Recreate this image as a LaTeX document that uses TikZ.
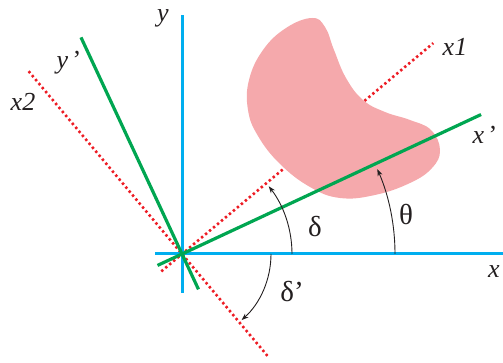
\documentclass[tikz,border=0pt]{standalone}
\usepackage{fontspec}
\setmainfont{Liberation Serif}
\usetikzlibrary{arrows.meta,calc}
\definecolor{axblue}{HTML}{00AEEF}
\definecolor{axgreen}{HTML}{00A651}
\definecolor{axred}{HTML}{ED1C24}
\definecolor{blobpink}{HTML}{F5A9AC}
\definecolor{txt}{HTML}{231F20}
\tikzset{
  blueaxis/.style={draw=axblue, line width=3pt},
  greenaxis/.style={draw=axgreen, line width=3.2pt},
  redaxis/.style={draw=axred, line width=2.6pt, dash pattern=on 2.4pt off 2.8pt},
  anglearc/.style={draw=txt, line width=0.9pt, -{Stealth[length=7pt,width=5pt]}},
  lbl/.style={text=txt, font=\fontsize{26}{29}\selectfont, inner sep=0pt},
  glbl/.style={text=txt, font=\fontsize{29}{32}\selectfont, inner sep=0pt},
}
\begin{document}
\begin{tikzpicture}[x=1pt,y=1pt]
\useasboundingbox (0,0) rectangle (503,363);
\coordinate (O) at (182,109);
% end points
\coordinate (xa) at (155,109);
\coordinate (xb) at (510,109);
\coordinate (ya) at (182,70);
\coordinate (yb) at (182,348);
\coordinate (xpa) at ($(O)+(205:27)$);
\coordinate (xpb) at ($(O)+(25:330)$);
\coordinate (ypa) at ($(O)+(295:39)$);
\coordinate (ypb) at ($(O)+(115:239)$);
\coordinate (x1a) at ($(O)+(220:27)$);
\coordinate (x1b) at ($(O)+(40:328)$);
\coordinate (x2a) at ($(O)+(310:133)$);
\coordinate (x2b) at ($(O)+(130:239)$);
% red dotted lines
\draw[redaxis] (x1a) -- (x1b);
\draw[redaxis] (x2a) -- (x2b);
% blob
\fill[blobpink] plot[smooth cycle, tension=0.7] coordinates {
 (312,345) (286,335) (263,313) (249,283) (248,253) (258,227) (280,199)
 (310,176) (340,165) (375,168) (410,180) (432,195) (440,213) (431,233)
 (410,243) (385,251) (363,263) (346,285) (334,313) (325,336)};
% blue axes
\draw[blueaxis] (xa) -- (xb);
\draw[blueaxis] (ya) -- (yb);
% green axes
\draw[greenaxis] (xpa) -- (xpb);
\draw[greenaxis] (ypa) -- (ypb);
% angle arcs
\draw[anglearc] ($(O)+(0:110)$) arc[start angle=0, end angle=38, radius=110];
\draw[anglearc] ($(O)+(0:213)$) arc[start angle=0, end angle=23.5, radius=213];
\draw[anglearc] ($(O)+(0:89)$) arc[start angle=0, end angle=-48, radius=89];
% labels
\node[lbl] (ly) at (163,345) {\textit{y}};
\node[lbl] (lyp) at (69,300) {\textit{y}\,’};
\node[lbl] (lx2) at (23,261) {\textit{x2}};
\node[lbl] (lx1) at (455,316) {\textit{x1}};
\node[lbl] (lxp) at (485,228) {\textit{x}\,’};
\node[lbl] (lx) at (494,91) {\textit{x}};
\node[glbl] (ld) at (315,136) {δ};
\node[glbl] (lt) at (406,148) {θ};
\node[glbl] (ldp) at (292,71) {δ’};
\end{tikzpicture}
\end{document}
